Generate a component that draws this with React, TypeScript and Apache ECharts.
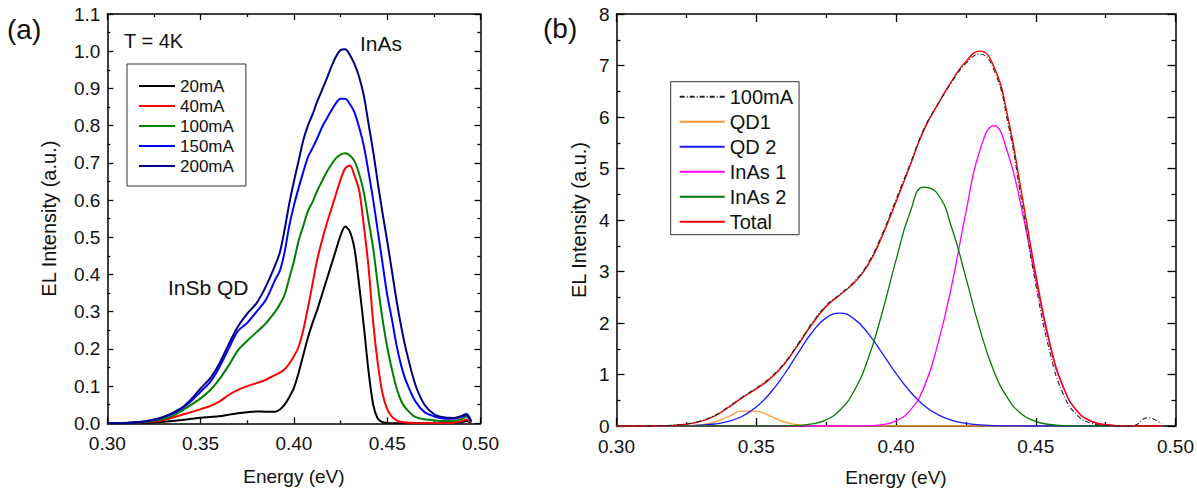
import React, { useEffect, useRef } from 'react';
import * as echarts from 'echarts';

// ---------- Panel (a): EL spectra at T = 4K ----------
const energyA = [
  0.300, 0.310, 0.320, 0.325, 0.330, 0.335, 0.340, 0.345, 0.350, 0.355,
  0.360, 0.365, 0.370, 0.375, 0.380, 0.385, 0.390, 0.3925, 0.395, 0.3975,
  0.400, 0.4025, 0.405, 0.4075, 0.410, 0.4125, 0.415, 0.4175, 0.420, 0.4225,
  0.425, 0.4275, 0.430, 0.4325, 0.435, 0.4375, 0.440, 0.4425, 0.445, 0.4475,
  0.450, 0.4525, 0.455, 0.4575, 0.460, 0.465, 0.470, 0.475, 0.480, 0.485,
  0.490, 0.4925, 0.495,
];
const el20mA = [
  0, 0, 0.001, 0.002, 0.004, 0.006, 0.009, 0.012, 0.015, 0.017,
  0.019, 0.023, 0.027, 0.030, 0.032, 0.031, 0.031, 0.037, 0.05, 0.07,
  0.095, 0.135, 0.183, 0.23, 0.27, 0.305, 0.345, 0.385, 0.425, 0.465,
  0.505, 0.529, 0.515, 0.468, 0.37, 0.26, 0.14, 0.05, 0.012, 0.003,
  0.001, 0, 0, 0, 0, 0, 0, 0, 0, 0.001,
  0.003, 0.006, 0.001,
];
const el40mA = [
  0, 0.001, 0.003, 0.0045, 0.009, 0.015, 0.023, 0.03, 0.038, 0.046,
  0.058, 0.076, 0.09, 0.10, 0.108, 0.117, 0.13, 0.136, 0.145, 0.16,
  0.18, 0.205, 0.25, 0.31, 0.375, 0.44, 0.49, 0.535, 0.575, 0.615,
  0.655, 0.685, 0.693, 0.665, 0.625, 0.53, 0.42, 0.27, 0.16, 0.08,
  0.038, 0.018, 0.008, 0.004, 0.002, 0.001, 0, 0, 0, 0.001,
  0.006, 0.01, 0.002,
];
const el100mA = [
  0, 0.001, 0.004, 0.007, 0.012, 0.02, 0.034, 0.05, 0.067, 0.088,
  0.118, 0.155, 0.196, 0.222, 0.245, 0.269, 0.30, 0.32, 0.345, 0.39,
  0.435, 0.49, 0.53, 0.57, 0.595, 0.625, 0.65, 0.675, 0.695, 0.712,
  0.722, 0.726, 0.72, 0.704, 0.67, 0.62, 0.545, 0.47, 0.37, 0.28,
  0.205, 0.145, 0.095, 0.06, 0.04, 0.017, 0.011, 0.008, 0.006, 0.006,
  0.012, 0.018, 0.004,
];
const el150mA = [
  0, 0.001, 0.005, 0.009, 0.016, 0.026, 0.04, 0.06, 0.085, 0.11,
  0.15, 0.2, 0.248, 0.27, 0.3, 0.332, 0.386, 0.41, 0.46, 0.53,
  0.585, 0.632, 0.675, 0.715, 0.74, 0.766, 0.795, 0.818, 0.84, 0.86,
  0.872, 0.872, 0.858, 0.835, 0.795, 0.745, 0.675, 0.6, 0.515, 0.43,
  0.345, 0.28, 0.21, 0.155, 0.115, 0.06, 0.03, 0.019, 0.013, 0.012,
  0.018, 0.022, 0.005,
];
const el200mA = [
  0, 0.001, 0.005, 0.01, 0.017, 0.028, 0.042, 0.065, 0.094, 0.12,
  0.16, 0.212, 0.26, 0.295, 0.323, 0.368, 0.425, 0.46, 0.52, 0.59,
  0.65, 0.705, 0.76, 0.8, 0.83, 0.865, 0.895, 0.925, 0.957, 0.985,
  1.003, 1.005, 0.99, 0.965, 0.93, 0.88, 0.805, 0.73, 0.645, 0.565,
  0.49, 0.41, 0.33, 0.26, 0.2, 0.105, 0.05, 0.025, 0.016, 0.014,
  0.02, 0.025, 0.006,
];
const seriesNamesA = ['20mA', '40mA', '100mA', '150mA', '200mA'];

// ---------- Panel (b): 100mA spectrum and Gaussian fit ----------
const energyB = [
  0.300, 0.305, 0.310, 0.315, 0.320, 0.325, 0.330, 0.335, 0.340, 0.345,
  0.350, 0.355, 0.360, 0.365, 0.370, 0.375, 0.380, 0.385, 0.390, 0.395,
  0.400, 0.405, 0.410, 0.415, 0.420, 0.425, 0.430, 0.435, 0.440, 0.445,
  0.450, 0.455, 0.460, 0.465, 0.470, 0.475, 0.480, 0.485, 0.490, 0.495,
];
const meas100mA = [
  0, 0, 0.002, 0.006, 0.015, 0.04, 0.095, 0.2, 0.37, 0.56,
  0.74, 0.94, 1.22, 1.6, 2.0, 2.34, 2.56, 2.8, 3.16, 3.72,
  4.4, 5.08, 5.77, 6.25, 6.68, 7.04, 7.22, 6.92, 5.9, 4.35,
  2.75, 1.45, 0.6, 0.2, 0.05, 0.01, 0, 0.01, 0.16, 0.04,
];
const fitQD1 = [
  0, 0, 0, 0, 0, 0.003, 0.02, 0.074, 0.18, 0.29,
  0.29, 0.19, 0.08, 0.022, 0.004, 0, 0, 0, 0, 0,
  0, 0, 0, 0, 0, 0, 0, 0, 0, 0,
  0, 0, 0, 0, 0, 0, 0, 0, 0, 0,
];
const fitQD2 = [
  0, 0, 0, 0.0005, 0.002, 0.005, 0.015, 0.039, 0.09, 0.19,
  0.37, 0.64, 1.0, 1.42, 1.82, 2.1, 2.19, 2.08, 1.8, 1.42,
  1.02, 0.67, 0.4, 0.22, 0.11, 0.05, 0.02, 0.008, 0.003, 0.001,
  0, 0, 0, 0, 0, 0, 0, 0, 0, 0,
];
const fitInAs1 = [
  0, 0, 0, 0, 0, 0, 0, 0, 0, 0,
  0, 0, 0, 0, 0, 0, 0, 0.001, 0.006, 0.027,
  0.099, 0.30, 0.75, 1.6, 2.75, 4.15, 5.35, 5.83, 5.3, 4.2,
  2.85, 1.58, 0.73, 0.28, 0.09, 0.025, 0.006, 0.001, 0, 0,
];
const fitInAs2 = [
  0, 0, 0, 0, 0, 0, 0, 0, 0, 0,
  0, 0.001, 0.003, 0.013, 0.042, 0.12, 0.31, 0.68, 1.3, 2.19,
  3.22, 4.14, 4.64, 4.5, 3.84, 2.88, 1.88, 1.07, 0.54, 0.23,
  0.089, 0.029, 0.009, 0.002, 0, 0, 0, 0, 0, 0,
];
const fitTotal = [
  0, 0, 0.002, 0.005, 0.012, 0.035, 0.09, 0.19, 0.36, 0.55,
  0.72, 0.92, 1.2, 1.58, 1.98, 2.32, 2.55, 2.78, 3.13, 3.68,
  4.35, 5.05, 5.75, 6.25, 6.7, 7.08, 7.28, 6.98, 6.0, 4.5,
  2.95, 1.62, 0.74, 0.28, 0.09, 0.025, 0.006, 0.002, 0, 0,
];
const legendNamesB = ['100mA', 'QD1', 'QD 2', 'InAs 1', 'InAs 2', 'Total'];

const FONT = '"Liberation Sans", Arial, Helvetica, sans-serif';
const TXT = '#111';

function pairs(xs: number[], ys: number[]) {
  return xs.map((x, i) => [x, ys[i]]);
}

function xAxisDef(grid: number, position: 'top' | 'bottom', labels: boolean, tick: number, minor: number, gap: number) {
  return {
    type: 'value',
    gridIndex: grid,
    position,
    min: 0.3,
    max: 0.5,
    interval: 0.05,
    axisLine: { show: true, onZero: false, lineStyle: { color: '#000', width: 1.5 } },
    axisTick: { show: true, inside: true, length: tick, lineStyle: { color: '#000', width: 1.3 } },
    minorTick: { show: true, splitNumber: 2, length: minor, lineStyle: { color: '#000', width: 1.3 } },
    splitLine: { show: false },
    minorSplitLine: { show: false },
    axisLabel: labels
      ? {
          show: true,
          formatter: (v: number) => v.toFixed(2),
          fontSize: 19,
          fontFamily: FONT,
          color: TXT,
          margin: 11,
          showMinLabel: true,
          showMaxLabel: true,
        }
      : { show: false },
    name: labels ? 'Energy (eV)' : '',
    nameLocation: 'middle',
    nameGap: gap,
    nameTextStyle: { fontSize: 19, fontFamily: FONT, color: TXT },
  };
}

function yAxisDef(
  grid: number,
  position: 'left' | 'right',
  labels: boolean,
  max: number,
  interval: number,
  digits: number,
  tick: number,
  minor: number,
  gap: number,
) {
  return {
    type: 'value',
    gridIndex: grid,
    position,
    min: 0,
    max,
    interval,
    axisLine: { show: true, onZero: false, lineStyle: { color: '#000', width: 1.5 } },
    axisTick: { show: true, inside: true, length: tick, lineStyle: { color: '#000', width: 1.3 } },
    minorTick: { show: true, splitNumber: 2, length: minor, lineStyle: { color: '#000', width: 1.3 } },
    splitLine: { show: false },
    minorSplitLine: { show: false },
    axisLabel: labels
      ? {
          show: true,
          formatter: (v: number) => v.toFixed(digits),
          fontSize: 19,
          fontFamily: FONT,
          color: TXT,
          margin: 7,
          showMinLabel: true,
          showMaxLabel: true,
        }
      : { show: false },
    name: labels ? 'EL Intensity (a.u.)' : '',
    nameLocation: 'middle',
    nameRotate: 90,
    nameGap: gap,
    nameTextStyle: { fontSize: 20, fontFamily: FONT, color: TXT },
  };
}

const colorsA = ['#000000', '#ff0000', '#008000', '#0000ff', '#000080'];
const dataA = [el20mA, el40mA, el100mA, el150mA, el200mA];

export default function App() {
  const ref = useRef<HTMLDivElement>(null);

  useEffect(() => {
    if (!ref.current) return;
    const chart = echarts.init(ref.current, null, { renderer: 'svg' });

    const seriesA = seriesNamesA.map((name, i) => ({
      type: 'line',
      name,
      xAxisIndex: 0,
      yAxisIndex: 0,
      data: pairs(energyA, dataA[i]),
      showSymbol: false,
      symbol: 'none',
      smooth: 0.3,
      lineStyle: { color: colorsA[i], width: 2 },
      itemStyle: { color: colorsA[i] },
      z: 2 + i,
    }));

    const bDefs = [
      { name: '100mA fit', data: meas100mA, color: '#222222', type: [5, 2, 1, 2], width: 1.1 },
      { name: 'QD1', data: fitQD1, color: '#ff9a30', type: 'solid', width: 1.3 },
      { name: 'QD 2', data: fitQD2, color: '#1a1aff', type: 'solid', width: 1.3 },
      { name: 'InAs 1', data: fitInAs1, color: '#ff00ff', type: 'solid', width: 1.3 },
      { name: 'InAs 2', data: fitInAs2, color: '#007a00', type: 'solid', width: 1.3 },
      { name: 'Total', data: fitTotal, color: '#ff0000', type: 'solid', width: 1.4 },
    ];
    const seriesB = bDefs.map((d, i) => ({
      type: 'line',
      name: d.name,
      xAxisIndex: 2,
      yAxisIndex: 2,
      data: pairs(energyB, d.data),
      showSymbol: false,
      symbol: 'none',
      smooth: 0.5,
      lineStyle: { color: d.color, width: d.width, type: d.type },
      itemStyle: { color: d.color },
      z: 2 + (i === 0 ? 6 : i),
    }));

    const legendCommon = {
      orient: 'vertical',
      borderColor: '#333',
      borderWidth: 1,
      backgroundColor: '#ffffff',
      selectedMode: false,
      itemStyle: { opacity: 0, borderWidth: 0 },
    };

    const option = {
      animation: false,
      backgroundColor: '#ffffff',
      textStyle: { fontFamily: FONT },
      grid: [
        { left: 107.3, top: 14, width: 373.2, height: 409.3, containLabel: false },
        { left: 616.5, top: 14, width: 559.5, height: 412, containLabel: false },
      ],
      xAxis: [
        xAxisDef(0, 'bottom', true, 6, 3, 44),
        xAxisDef(0, 'top', false, 6, 3, 0),
        xAxisDef(1, 'bottom', true, 8, 4, 42),
        xAxisDef(1, 'top', false, 8, 4, 0),
      ],
      yAxis: [
        yAxisDef(0, 'left', true, 1.1, 0.1, 1, 6, 3, 48),
        yAxisDef(0, 'right', false, 1.1, 0.1, 1, 6, 3, 0),
        yAxisDef(1, 'left', true, 8, 1, 0, 8, 4, 28),
        yAxisDef(1, 'right', false, 8, 1, 0, 8, 4, 0),
      ],
      legend: [
        {
          ...legendCommon,
          data: seriesNamesA,
          left: 127,
          top: 64,
          itemWidth: 36,
          itemHeight: 12,
          itemGap: 0,
          padding: [12, 12, 10, 11],
          textStyle: { fontSize: 17, lineHeight: 20, fontFamily: FONT, color: TXT },
        },
        {
          ...legendCommon,
          data: ['100mA fit', 'QD1', 'QD 2', 'InAs 1', 'InAs 2', 'Total'],
          formatter: (n: string) => (n === '100mA fit' ? legendNamesB[0] : n),
          left: 670.7,
          top: 81.7,
          itemWidth: 45,
          itemHeight: 12,
          itemGap: 1,
          padding: [3, 6, 1, 8],
          textStyle: { fontSize: 20, lineHeight: 24, fontFamily: FONT, color: TXT },
        },
      ],
      graphic: [
        { type: 'text', x: 7, y: 29, style: { text: '(a)', fontSize: 28, fontFamily: FONT, fill: TXT, verticalAlign: 'middle' } },
        { type: 'text', x: 543, y: 28, style: { text: '(b)', fontSize: 28, fontFamily: FONT, fill: TXT, verticalAlign: 'middle' } },
        { type: 'text', x: 124, y: 41, style: { text: 'T = 4K', fontSize: 20, fontFamily: FONT, fill: TXT, verticalAlign: 'middle' } },
        { type: 'text', x: 360, y: 43, style: { text: 'InAs', fontSize: 21, fontFamily: FONT, fill: TXT, verticalAlign: 'middle' } },
        { type: 'text', x: 168, y: 287, style: { text: 'InSb QD', fontSize: 21, fontFamily: FONT, fill: TXT, verticalAlign: 'middle' } },
      ],
      series: [...seriesA, ...seriesB],
    };

    chart.setOption(option as any);
    return () => chart.dispose();
  }, []);

  return (
    <div
      ref={ref}
      style={{ position: 'fixed', left: 0, top: 0, width: 1197, height: 493, background: '#ffffff' }}
    />
  );
}
